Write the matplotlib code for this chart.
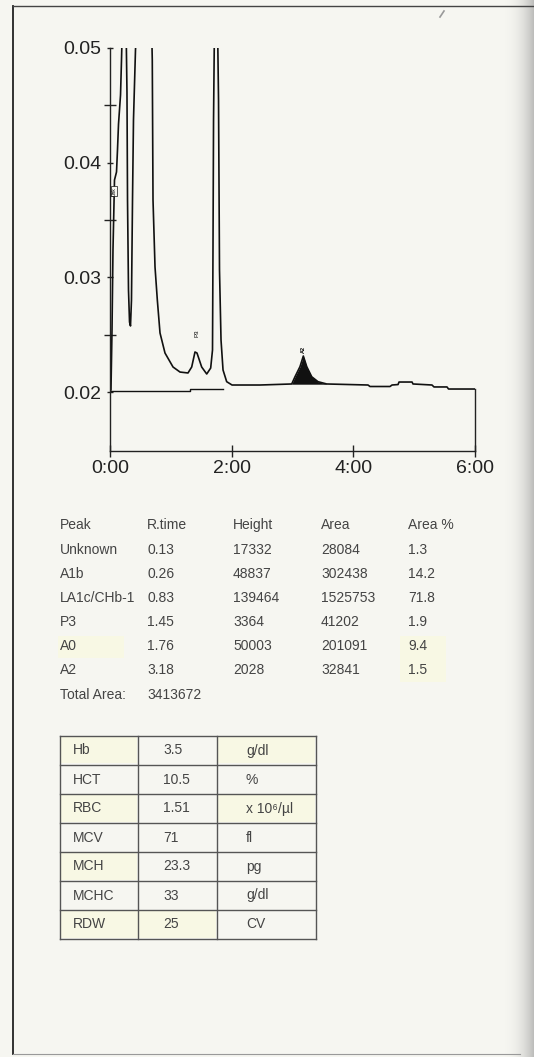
import matplotlib.pyplot as plt
import numpy as np
from matplotlib.ticker import FixedLocator

plt.rcParams['font.family'] = ['Liberation Sans', 'DejaVu Sans']

W, H = 534, 1057

# chromatogram trace (time in min, absorbance)
trace_time = [0.000, 0.016, 0.033, 0.049, 0.074, 0.107, 0.123, 0.140, 0.173, 0.189,
              0.205, 0.263, 0.279, 0.288, 0.304, 0.321, 0.337, 0.353, 0.370, 0.386,
              0.419, 0.444, 0.682, 0.695, 0.707, 0.740, 0.778, 0.822, 0.904, 1.036,
              1.151, 1.282, 1.343, 1.397, 1.430, 1.507, 1.590, 1.655, 1.685, 1.693,
              1.702, 1.718, 1.767, 1.784, 1.800, 1.825, 1.858, 1.918, 2.006, 2.466,
              2.987, 3.041, 3.123, 3.178, 3.234, 3.316, 3.419, 3.562, 4.241, 4.274,
              4.603, 4.636, 4.735, 4.751, 4.965, 4.981, 5.293, 5.326, 5.540, 5.565,
              6.000]
trace_abs = [0.02009, 0.02017, 0.02541, 0.03238, 0.03849, 0.03919, 0.04110, 0.04337, 0.04590, 0.04895,
             0.0524, 0.0524, 0.04616, 0.03674, 0.02889, 0.02610, 0.02576, 0.02802, 0.03674, 0.04372,
             0.04983, 0.0524, 0.0524, 0.04895, 0.03674, 0.03090, 0.02802, 0.02515, 0.02340, 0.02218,
             0.02174, 0.02166, 0.02218, 0.02349, 0.02340, 0.02218, 0.02157, 0.02209, 0.02366, 0.03238,
             0.04372, 0.0524, 0.0524, 0.04546, 0.03064, 0.02453, 0.02192, 0.02090, 0.02061, 0.02061,
             0.02070, 0.02133, 0.02221, 0.02314, 0.02221, 0.02133, 0.02090, 0.02070, 0.02061, 0.02048,
             0.02048, 0.02061, 0.02065, 0.02087, 0.02087, 0.02070, 0.02061, 0.02044, 0.02044, 0.02026,
             0.02026]

# integration baseline
base_time = [0.0, 1.31, 1.31, 1.86]
base_abs = [0.02009, 0.02009, 0.02030, 0.02030]

# A2 peak is shaded
a2_start, a2_end, a2_level = 2.98, 3.57, 0.02068

# peak table
peak_header = ['Peak', 'R.time', 'Height', 'Area', 'Area %']
peak_names = ['Unknown', 'A1b', 'LA1c/CHb-1', 'P3', 'A0', 'A2']
peak_rtime = ['0.13', '0.26', '0.83', '1.45', '1.76', '3.18']
peak_height = ['17332', '48837', '139464', '3364', '50003', '2028']
peak_area = ['28084', '302438', '1525753', '41202', '201091', '32841']
peak_pct = ['1.3', '14.2', '71.8', '1.9', '9.4', '1.5']
total_area = '3413672'

# blood count table
cbc_names = ['Hb', 'HCT', 'RBC', 'MCV', 'MCH', 'MCHC', 'RDW']
cbc_values = ['3.5', '10.5', '1.51', '71', '23.3', '33', '25']
cbc_units = ['g/dl', '%', 'x 10⁶/µl', 'fl', 'pg', 'g/dl', 'CV']

bg = '#f6f6f1'
txt = '#444444'

fig = plt.figure(figsize=(W / 100, H / 100), dpi=100, facecolor=bg)

# page layer in pixel coords
page = fig.add_axes([0, 0, 1, 1])
page.axis('off')
# shadow of the page fold on the right
shade = np.zeros((1, 200, 4))
shade[..., :3] = 0.55
shade[..., 3] = np.linspace(0, 1, 200) ** 2.5 * 0.55
page.imshow(shade, extent=[500, W, H, 0], aspect='auto', zorder=0, interpolation='bilinear')
page.set_xlim(0, W)
page.set_ylim(H, 0)
page.plot([13, 13], [6, 1054], color='#222222', lw=1.3)
page.plot([13, 534], [6, 6], color='#444444', lw=1.0)
page.plot([13, 520], [1054, 1054], color='#999999', lw=0.8)
page.plot([440, 444], [17, 11], color='#999999', lw=1.2)

# highlighter marks
for (x0, y0, w, h) in [(58, 636, 66, 22), (400, 636, 46, 46),
                       (61, 737, 76, 26), (218, 737, 97, 26), (61, 794, 76, 28),
                       (218, 794, 97, 28), (61, 910, 155, 28), (61, 852, 76, 28)]:
    page.add_patch(plt.Rectangle((x0, y0), w, h, color='#f8f8e4', lw=0, zorder=1))

# peak table
col_x = [60, 147, 233, 321, 408]
for x, s in zip(col_x, peak_header):
    page.text(x, 525, s, fontsize=10, color=txt, va='center')
cols = [peak_names, peak_rtime, peak_height, peak_area, peak_pct]
for i in range(len(peak_names)):
    y = 550 + i * 24
    for x, col in zip(col_x, cols):
        page.text(x, y, col[i], fontsize=10, color=txt, va='center')
page.text(60, 695, 'Total Area:', fontsize=10, color=txt, va='center')
page.text(147, 695, total_area, fontsize=10, color=txt, va='center')

# blood count table
grid_x = [60, 138, 217, 316]
top, row_h = 736, 29.0
n = len(cbc_names)
for k in range(n + 1):
    page.plot([grid_x[0], grid_x[-1]], [top + k * row_h] * 2, color='#555555', lw=1.0)
for x in grid_x:
    page.plot([x, x], [top, top + n * row_h], color='#555555', lw=1.0)
for i in range(n):
    y = top + (i + 0.5) * row_h
    page.text(73, y, cbc_names[i], fontsize=10, color=txt, va='center')
    page.text(163, y, cbc_values[i], fontsize=10, color=txt, va='center')
    page.text(246, y, cbc_units[i], fontsize=10, color=txt, va='center')

# chromatogram
ax = fig.add_axes([110 / W, 1 - 451 / H, 365 / W, 403 / H])
ax.set_facecolor('none')
ax.set_xlim(0, 6)
ax.set_ylim(0.014855, 0.05)
ax.plot(trace_time, trace_abs, color='#111111', lw=1.2)
ax.plot(base_time, base_abs, color='#111111', lw=1.0)
t = np.array(trace_time)
a = np.array(trace_abs)
ax.fill_between(t, a, a2_level, where=(t >= a2_start) & (t <= a2_end), color='#111111', lw=0)

ax.text(1.43, 0.0251, 'P3', rotation=90, fontsize=4.5, ha='center', va='center')
ax.text(3.18, 0.0237, 'A2', rotation=90, fontsize=4, ha='center', va='center', fontweight='bold')
ax.text(0.07, 0.0375, 'Unk', rotation=90, fontsize=3.5, ha='center', va='center',
        bbox=dict(facecolor=bg, edgecolor='#111111', lw=0.5, pad=0.5))

ax.spines['top'].set_visible(False)
ax.spines['right'].set_bounds(0.014855, 0.02026)
for s in ['left', 'bottom', 'right']:
    ax.spines[s].set_color('#222222')
    ax.spines[s].set_linewidth(1.0)

ax.xaxis.set_major_locator(FixedLocator([0, 2, 4, 6]))
ax.set_xticklabels(['0:00', '2:00', '4:00', '6:00'])
ax.yaxis.set_minor_locator(FixedLocator([0.025, 0.035, 0.045]))
ax.set_yticks([0.02, 0.03, 0.04, 0.05])
ax.set_yticklabels(['0.02', '0.03', '0.04', '0.05'])
ax.tick_params(axis='x', direction='inout', length=9, width=1, labelsize=14,
               colors='#222222', pad=2)
ax.tick_params(axis='y', which='major', direction='inout', length=5, width=1,
               labelsize=14, colors='#222222', pad=4)
ax.tick_params(axis='y', which='minor', direction='inout', length=9, width=1, colors='#222222')

fig.savefig('out.png', dpi=100, facecolor=bg)
